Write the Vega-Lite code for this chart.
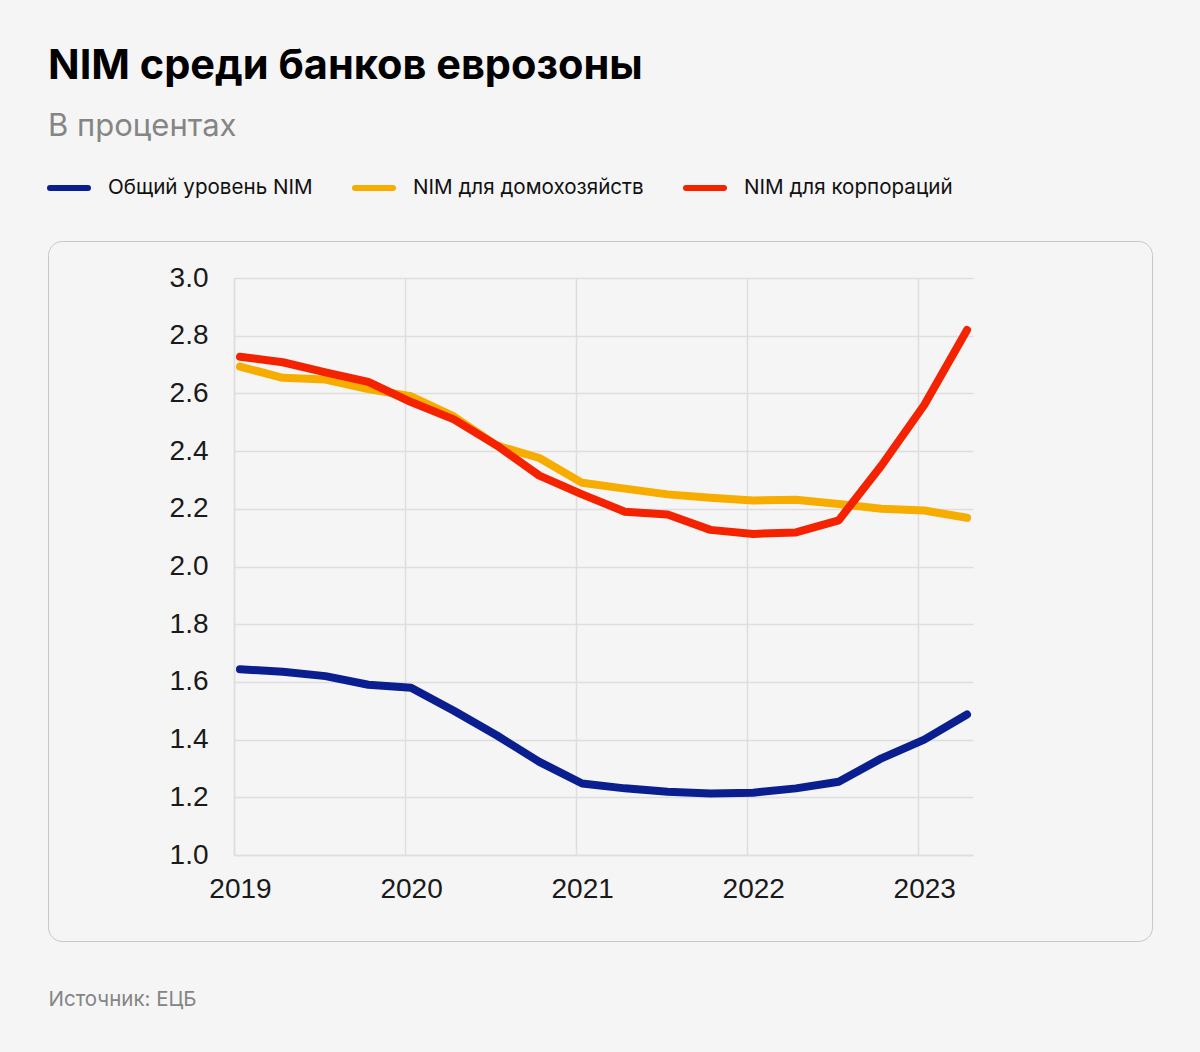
{
  "$schema": "https://vega.github.io/schema/vega-lite/v6.json",
  "width": 1104,
  "height": 700,
  "autosize": {"type": "none"},
  "padding": {"left": 48, "top": 241, "right": 48, "bottom": 111},
  "background": "#f5f5f5",
  "title": {
    "text": "NIM среди банков еврозоны",
    "subtitle": "В процентах",
    "anchor": "start",
    "frame": "group",
    "offset": 24
  },
  "data": {
    "values": [
      {"series": "Общий уровень NIM", "year": 2019.035, "value": 1.644},
      {"series": "Общий уровень NIM", "year": 2019.285, "value": 1.635},
      {"series": "Общий уровень NIM", "year": 2019.535, "value": 1.62},
      {"series": "Общий уровень NIM", "year": 2019.785, "value": 1.59},
      {"series": "Общий уровень NIM", "year": 2020.035, "value": 1.58},
      {"series": "Общий уровень NIM", "year": 2020.285, "value": 1.50},
      {"series": "Общий уровень NIM", "year": 2020.535, "value": 1.415},
      {"series": "Общий уровень NIM", "year": 2020.785, "value": 1.323},
      {"series": "Общий уровень NIM", "year": 2021.035, "value": 1.248},
      {"series": "Общий уровень NIM", "year": 2021.285, "value": 1.231},
      {"series": "Общий уровень NIM", "year": 2021.535, "value": 1.219},
      {"series": "Общий уровень NIM", "year": 2021.785, "value": 1.213},
      {"series": "Общий уровень NIM", "year": 2022.035, "value": 1.216},
      {"series": "Общий уровень NIM", "year": 2022.285, "value": 1.231},
      {"series": "Общий уровень NIM", "year": 2022.535, "value": 1.254},
      {"series": "Общий уровень NIM", "year": 2022.785, "value": 1.335},
      {"series": "Общий уровень NIM", "year": 2023.035, "value": 1.40},
      {"series": "Общий уровень NIM", "year": 2023.285, "value": 1.487},
      {"series": "NIM для домохозяйств", "year": 2019.035, "value": 2.693},
      {"series": "NIM для домохозяйств", "year": 2019.285, "value": 2.654},
      {"series": "NIM для домохозяйств", "year": 2019.535, "value": 2.648},
      {"series": "NIM для домохозяйств", "year": 2019.785, "value": 2.615},
      {"series": "NIM для домохозяйств", "year": 2020.035, "value": 2.59},
      {"series": "NIM для домохозяйств", "year": 2020.285, "value": 2.52},
      {"series": "NIM для домохозяйств", "year": 2020.535, "value": 2.42},
      {"series": "NIM для домохозяйств", "year": 2020.785, "value": 2.376},
      {"series": "NIM для домохозяйств", "year": 2021.035, "value": 2.29},
      {"series": "NIM для домохозяйств", "year": 2021.285, "value": 2.27},
      {"series": "NIM для домохозяйств", "year": 2021.535, "value": 2.25},
      {"series": "NIM для домохозяйств", "year": 2021.785, "value": 2.238},
      {"series": "NIM для домохозяйств", "year": 2022.035, "value": 2.229},
      {"series": "NIM для домохозяйств", "year": 2022.285, "value": 2.231},
      {"series": "NIM для домохозяйств", "year": 2022.535, "value": 2.217},
      {"series": "NIM для домохозяйств", "year": 2022.785, "value": 2.20},
      {"series": "NIM для домохозяйств", "year": 2023.035, "value": 2.194},
      {"series": "NIM для домохозяйств", "year": 2023.285, "value": 2.169},
      {"series": "NIM для корпораций", "year": 2019.035, "value": 2.727},
      {"series": "NIM для корпораций", "year": 2019.285, "value": 2.708},
      {"series": "NIM для корпораций", "year": 2019.535, "value": 2.673},
      {"series": "NIM для корпораций", "year": 2019.785, "value": 2.64},
      {"series": "NIM для корпораций", "year": 2020.035, "value": 2.57},
      {"series": "NIM для корпораций", "year": 2020.285, "value": 2.51},
      {"series": "NIM для корпораций", "year": 2020.535, "value": 2.42},
      {"series": "NIM для корпораций", "year": 2020.785, "value": 2.315},
      {"series": "NIM для корпораций", "year": 2021.035, "value": 2.25},
      {"series": "NIM для корпораций", "year": 2021.285, "value": 2.19},
      {"series": "NIM для корпораций", "year": 2021.535, "value": 2.18},
      {"series": "NIM для корпораций", "year": 2021.785, "value": 2.127},
      {"series": "NIM для корпораций", "year": 2022.035, "value": 2.113},
      {"series": "NIM для корпораций", "year": 2022.285, "value": 2.118},
      {"series": "NIM для корпораций", "year": 2022.535, "value": 2.16},
      {"series": "NIM для корпораций", "year": 2022.785, "value": 2.35},
      {"series": "NIM для корпораций", "year": 2023.035, "value": 2.56},
      {"series": "NIM для корпораций", "year": 2023.285, "value": 2.82}
    ]
  },
  "encoding": {
    "y": {
      "field": "value",
      "type": "quantitative",
      "scale": {"domain": [1, 3], "range": [614, 37], "nice": false, "zero": false},
      "axis": {
        "orient": "left",
        "offset": -186,
        "values": [1.0, 1.2, 1.4, 1.6, 1.8, 2.0, 2.2, 2.4, 2.6, 2.8, 3.0],
        "format": ".1f",
        "labelPadding": 26,
        "labelFontSize": 28,
        "title": null
      }
    },
    "color": {
      "field": "series",
      "type": "nominal",
      "scale": {
        "domain": ["Общий уровень NIM", "NIM для домохозяйств", "NIM для корпораций"],
        "range": ["#0a1e8f", "#f7ac00", "#f52200"]
      },
      "legend": {
        "title": null,
        "orient": "none",
        "direction": "horizontal",
        "legendX": -1,
        "legendY": -75,
        "symbolType": "stroke",
        "symbolSize": 1444,
        "symbolStrokeWidth": 6,
        "labelOffset": 17,
        "labelLimit": 0,
        "columnPadding": 30,
        "labelFont": "Inter",
        "labelFontSize": 20.6,
        "labelColor": "#111111",
        "encode": {"symbols": {"update": {"strokeCap": {"value": "round"}}}}
      }
    }
  },
  "layer": [
    {
      "mark": {"type": "line", "strokeWidth": 8, "strokeOpacity": 0},
      "encoding": {
        "x": {
          "field": "year",
          "type": "quantitative",
          "scale": {"domain": [2019, 2023.32], "range": [186, 925], "nice": false, "zero": false},
          "axis": {
            "orient": "top",
            "offset": -37,
            "values": [2019, 2020, 2021, 2022, 2023],
            "grid": true,
            "labels": false,
            "domain": false,
            "title": null
          }
        }
      }
    },
    {
      "mark": {"type": "line", "strokeWidth": 8, "strokeCap": "round", "strokeJoin": "round"},
      "encoding": {
        "x": {
          "field": "year",
          "type": "quantitative",
          "scale": {"domain": [2019, 2023.32], "range": [186, 925], "nice": false, "zero": false},
          "axis": {
            "orient": "bottom",
            "offset": -86,
            "grid": false,
            "values": [2019, 2020, 2021, 2022, 2023],
            "format": "d",
            "labelFlush": false,
            "labelPadding": 20,
            "labelFontSize": 28,
            "labelOffset": 6,
            "title": "Источник: ЕЦБ",
            "titleX": 0,
            "titleY": 150,
            "titleAlign": "left",
            "titleBaseline": "alphabetic",
            "titleFont": "Inter",
            "titleFontSize": 20.5,
            "titleFontWeight": "normal",
            "titleColor": "#858585"
          }
        }
      }
    }
  ],
  "resolve": {"axis": {"x": "independent"}},
  "config": {
    "view": {"fill": "#f5f5f5", "stroke": "#c8c8c8", "strokeWidth": 1, "cornerRadius": 14},
    "axis": {
      "labelFont": "Liberation Sans",
      "labelColor": "#1a1a1a",
      "ticks": false,
      "grid": true,
      "gridColor": "#dedede",
      "gridWidth": 1.5,
      "domainColor": "#dedede",
      "domainWidth": 1.5
    },
    "title": {
      "font": "Inter",
      "fontSize": 41.5,
      "fontWeight": 700,
      "color": "#000000",
      "subtitleFont": "Inter",
      "subtitleFontSize": 31,
      "subtitleColor": "#858585",
      "subtitlePadding": 25
    }
  }
}
